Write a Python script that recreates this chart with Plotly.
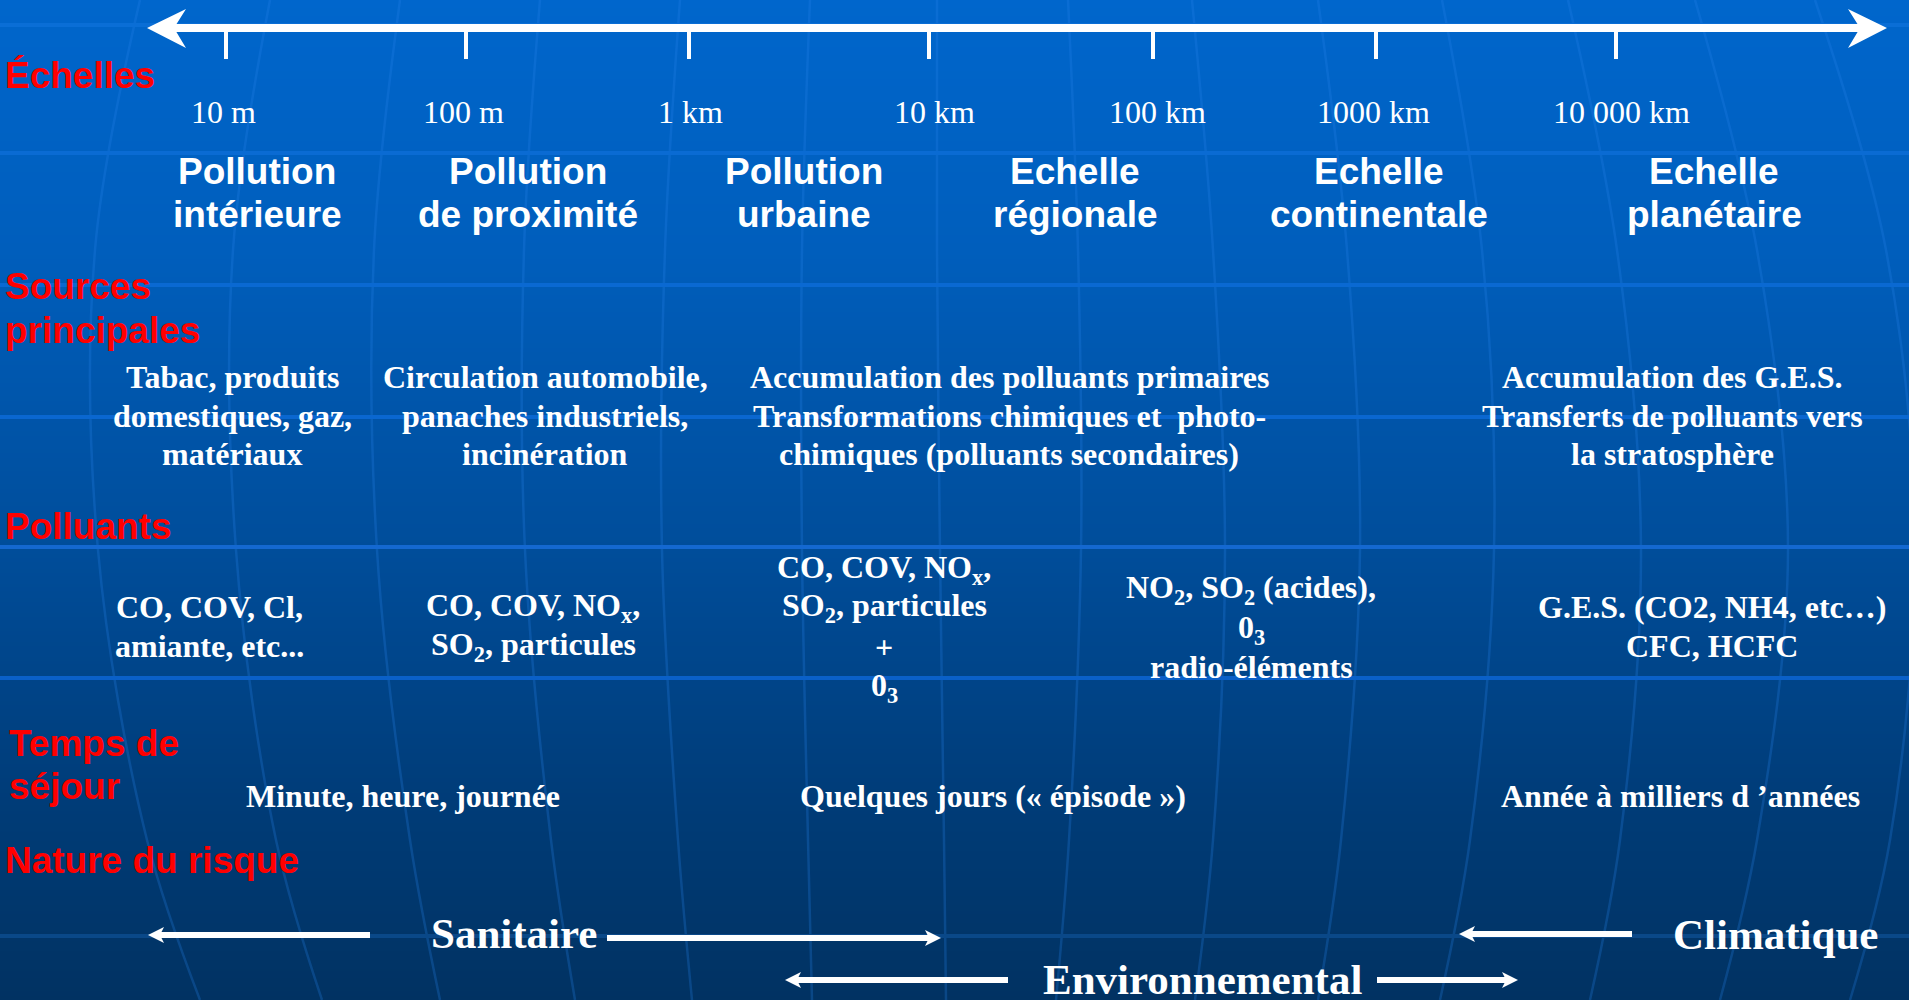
import plotly.graph_objects as go

# ---------------- content ----------------
scale_labels = ["10 m", "100 m", "1 km", "10 km", "100 km", "1000 km", "10 000 km"]
scale_label_x = [223, 463, 690, 934, 1157, 1373, 1621]
tick_x = [226, 466, 689, 929, 1153, 1376, 1616]

zone_titles = [["Pollution", "intérieure"], ["Pollution", "de proximité"],
               ["Pollution", "urbaine"], ["Echelle", "régionale"],
               ["Echelle", "continentale"], ["Echelle", "planétaire"]]
zone_x = [257, 528, 804, 1075, 1379, 1714]
zone_line_y = [171, 214]

row_labels = [["Échelles"], ["Sources", "principales"], ["Polluants"],
              ["Temps de", "séjour"], ["Nature du risque"]]
row_label_x = [3, 3, 3, 7, 3]
row_label_y = [[75], [286, 330], [526], [743, 786], [860]]

sources = [["Tabac, produits", "domestiques, gaz,", "matériaux"],
           ["Circulation automobile,", "panaches industriels,", "incinération"],
           ["Accumulation des polluants primaires",
            "Transformations chimiques et  photo-",
            "chimiques (polluants secondaires)"],
           ["Accumulation des G.E.S.", "Transferts de polluants vers",
            "la stratosphère"]]
sources_x = [232, 545, 1009, 1672]
sources_y = [377, 416, 454]

pollutants = [["CO, COV, Cl,", "amiante, etc..."],
              ["CO, COV, NO<sub>x</sub>,", "SO<sub>2</sub>, particules"],
              ["CO, COV, NO<sub>x</sub>,", "SO<sub>2</sub>, particules", "+",
               "0<sub>3</sub>"],
              ["NO<sub>2</sub>, SO<sub>2</sub> (acides),", "0<sub>3</sub>",
               "radio-éléments"],
              ["G.E.S. (CO2, NH4, etc…)", "CFC, HCFC"]]
pollutants_x = [209, 533, 884, 1251, 1712]
pollutants_y = [[607, 646], [607, 646], [569, 607, 647, 687],
                [589, 629, 667], [607, 646]]

residence = ["Minute, heure, journée", "Quelques jours (« épisode »)",
             "Année à milliers d ’années"]
residence_x = [403, 993, 1680]
residence_y = 796

risk_labels = ["Sanitaire", "Climatique", "Environnemental"]
risk_x = [514, 1775, 1202]
risk_y = [933, 934, 979]
# (tail x, tip x, y)
risk_arrows = [(370, 148, 935), (607, 941, 938), (1632, 1459, 934),
               (1008, 785, 980), (1377, 1518, 980)]

# ---------------- background decoration ----------------
bg_stop_y = [0, 250, 550, 800, 1000]
bg_stop_colors = ["#0066CC", "#005EBC", "#004D9A", "#003C78", "#013262"]

hline_y = [25, 153, 285, 417, 547, 678, 936]
hline_color = ["#0A6ED6", "#0A6BD3", "#0A69D2", "#0A67D0", "#1468D0",
               "#0A60C8", "#0A4888"]

meridian_y = [0, 250, 550, 840, 1000]
meridian_x = [
    [140, 95, 98, 147, 200],
    [270, 233, 236, 276, 322],
    [400, 374, 377, 410, 440],
    [540, 524, 525, 551, 575],
    [680, 665, 662, 678, 692],
    [810, 802, 802, 808, 812],
    [937, 937, 940, 944, 946],
    [1068, 1078, 1081, 1069, 1056],
    [1192, 1213, 1225, 1213, 1195],
    [1318, 1347, 1360, 1341, 1318],
    [1442, 1482, 1494, 1470, 1440],
    [1568, 1617, 1641, 1620, 1590],
    [1695, 1757, 1788, 1757, 1720],
    [1815, 1886, 1915, 1890, 1850],
]

W, H = 1909, 1000
fig = go.Figure()

n = len(bg_stop_y)
fig.add_trace(go.Heatmap(
    x=[0, W], y=bg_stop_y,
    z=[[i, i] for i in range(n)],
    colorscale=[[i / (n - 1), c] for i, c in enumerate(bg_stop_colors)],
    zmin=0, zmax=n - 1, zsmooth="best", showscale=False, hoverinfo="skip"))

for mx in meridian_x:
    fig.add_trace(go.Scatter(
        x=mx, y=meridian_y, mode="lines",
        line=dict(color="rgba(40,130,235,0.26)", width=2.5, shape="spline"),
        hoverinfo="skip", showlegend=False))

shapes = []
for yy, cc in zip(hline_y, hline_color):
    shapes.append(dict(type="line", x0=0, x1=W, y0=yy, y1=yy,
                       line=dict(color=cc, width=4)))

# top double arrow (scale axis)
ax_y = 28
shapes.append(dict(type="line", x0=172, x1=1862, y0=ax_y, y1=ax_y,
                   line=dict(color="white", width=8)))
shapes.append(dict(type="path",
                   path=f"M147,{ax_y} L186,{ax_y-19} L174,{ax_y} L186,{ax_y+20} Z",
                   fillcolor="white", line=dict(width=0)))
shapes.append(dict(type="path",
                   path=f"M1887,{ax_y} L1848,{ax_y-19} L1860,{ax_y} L1848,{ax_y+20} Z",
                   fillcolor="white", line=dict(width=0)))
for tx in tick_x:
    shapes.append(dict(type="line", x0=tx, x1=tx, y0=ax_y, y1=59,
                       line=dict(color="white", width=4)))

# risk arrows
for tail, tip, yy in risk_arrows:
    d = 1 if tail > tip else -1
    shapes.append(dict(type="line", x0=tail, x1=tip + d * 12, y0=yy, y1=yy,
                       line=dict(color="white", width=6)))
    shapes.append(dict(type="path",
                       path=(f"M{tip},{yy} L{tip + d*16},{yy-8} "
                             f"L{tip + d*12},{yy} L{tip + d*16},{yy+8} Z"),
                       fillcolor="white", line=dict(width=0)))

ann = []
SERIF = "Liberation Serif, Times New Roman, serif"
SANS = "Liberation Sans, Arial, sans-serif"


def add_text(txt, x, y, family, size, color="white", bold=False, xanchor="center"):
    if bold:
        txt = f"<b>{txt}</b>"
    ann.append(dict(text=txt, x=x, y=y, xref="x", yref="y", showarrow=False,
                    xanchor=xanchor, yanchor="middle",
                    font=dict(family=family, size=size, color=color)))


for lab, x in zip(scale_labels, scale_label_x):
    add_text(lab, x, 112, SERIF, 32)

for lines, x in zip(zone_titles, zone_x):
    for ln, yy in zip(lines, zone_line_y):
        add_text(ln, x, yy, SANS, 37, bold=True)

for lines, x, ys in zip(row_labels, row_label_x, row_label_y):
    for ln, yy in zip(lines, ys):
        add_text(ln, x, yy, SANS, 37, color="#FF0000", bold=True, xanchor="left")

for lines, x in zip(sources, sources_x):
    for ln, yy in zip(lines, sources_y):
        add_text(ln, x, yy, SERIF, 32, bold=True)

for lines, x, ys in zip(pollutants, pollutants_x, pollutants_y):
    for ln, yy in zip(lines, ys):
        add_text(ln, x, yy, SERIF, 32, bold=True)

for ln, x in zip(residence, residence_x):
    add_text(ln, x, residence_y, SERIF, 32, bold=True)

for ln, x, yy in zip(risk_labels, risk_x, risk_y):
    add_text(ln, x, yy, SERIF, 43, bold=True)

fig.update_layout(
    width=W, height=H, margin=dict(l=0, r=0, t=0, b=0),
    paper_bgcolor="#004C99", plot_bgcolor="#004C99",
    xaxis=dict(range=[0, W], visible=False, fixedrange=True),
    yaxis=dict(range=[H, 0], visible=False, fixedrange=True),
    showlegend=False, hovermode=False,
    shapes=shapes, annotations=ann)

fig.write_html("out.html", config={"displayModeBar": False},
               post_script="document.body.style.margin='0';document.body.style.overflow='hidden';")
